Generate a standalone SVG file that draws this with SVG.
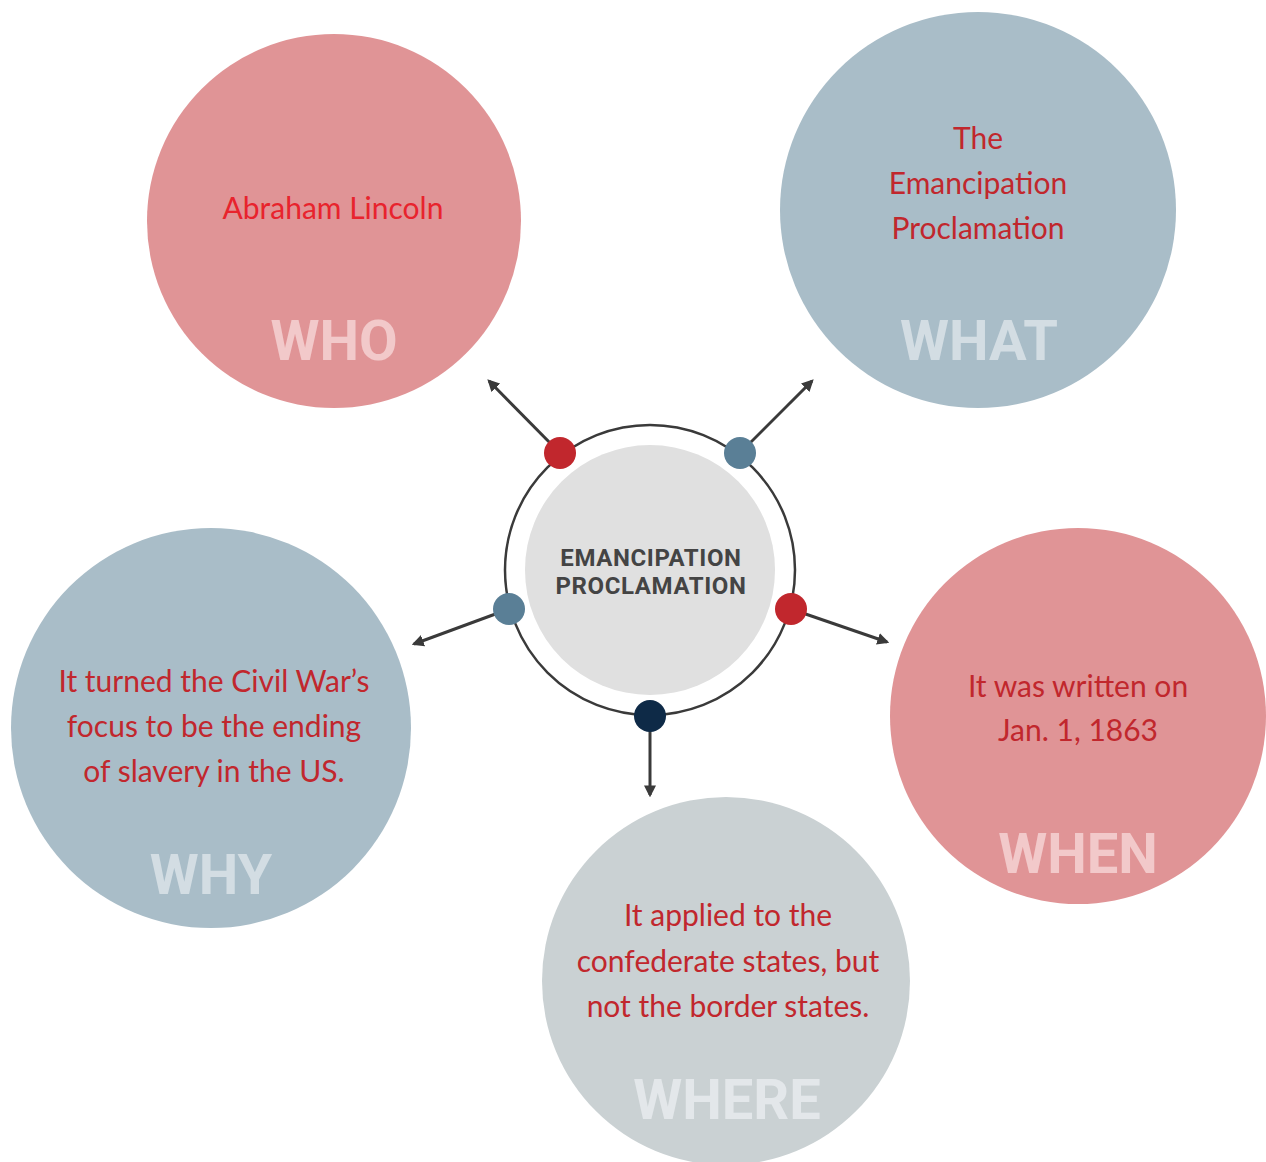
<svg xmlns="http://www.w3.org/2000/svg" width="1266" height="1162" viewBox="0 0 1266 1162">
<style>
.body{font-family:Lato,"Open Sans","Liberation Sans",sans-serif;font-size:30px;fill:#C1272D;text-anchor:middle}
.lab{font-family:Roboto,"Liberation Sans",sans-serif;font-weight:700;font-size:56px;text-anchor:middle}
.ctr{font-family:Roboto,"Liberation Sans",sans-serif;font-weight:700;font-size:24px;letter-spacing:0.6px;fill:#444;text-anchor:middle}
.conn{stroke:#3a3a3a;stroke-width:3;fill:none;marker-end:url(#ah)}
</style>
<defs>
<marker id="ah" viewBox="0 0 10 10" refX="8" refY="5" markerWidth="4" markerHeight="4" orient="auto" markerUnits="strokeWidth">
<path d="M0,0 L10,5 L0,10 Z" fill="#3a3a3a"/>
</marker>
</defs>
<rect width="1266" height="1162" fill="#fff"/>
<g id="who">
<circle cx="334" cy="221" r="187" fill="#E09496"/>
<text class="body" x="333" y="219" style="fill:#E8232D">Abraham Lincoln</text>
<text class="lab" x="334" y="360" fill="#F2C9CA">WHO</text>
</g>
<g id="what">
<circle cx="978" cy="210" r="198" fill="#A9BDC8"/>
<text class="body" x="978" y="149">The</text>
<text class="body" x="978" y="194">Emancipation</text>
<text class="body" x="978" y="239">Proclamation</text>
<text class="lab" x="979" y="360" fill="#D3DDE3">WHAT</text>
</g>
<g id="why">
<circle cx="211" cy="728" r="200" fill="#A9BDC8"/>
<text class="body" x="214" y="692">It turned the Civil War’s</text>
<text class="body" x="214" y="737">focus to be the ending</text>
<text class="body" x="214" y="782">of slavery in the US.</text>
<text class="lab" x="211" y="894" fill="#D3DDE3">WHY</text>
</g>
<g id="when">
<circle cx="1078" cy="716" r="188" fill="#E09496"/>
<text class="body" x="1078" y="697">It was written on</text>
<text class="body" x="1078" y="741">Jan. 1, 1863</text>
<text class="lab" x="1078" y="873" fill="#F2C9CA">WHEN</text>
</g>
<g id="where">
<circle cx="726" cy="981" r="184" fill="#CAD1D3"/>
<text class="body" x="728" y="926">It applied to the</text>
<text class="body" x="728" y="972">confederate states, but</text>
<text class="body" x="728" y="1017">not the border states.</text>
<text class="lab" x="727" y="1119" fill="#E3E7EA">WHERE</text>
</g>
<g id="center">
<circle cx="650" cy="570" r="145" fill="none" stroke="#3a3a3a" stroke-width="2.5"/>
<circle cx="650" cy="570" r="125" fill="#E0E0E0"/>
<text class="ctr" x="651" y="566">EMANCIPATION</text>
<text class="ctr" x="651" y="594">PROCLAMATION</text>
</g>
<g id="connectors">
<line class="conn" x1="560" y1="453" x2="489" y2="381"/>
<line class="conn" x1="740" y1="453" x2="812" y2="381"/>
<line class="conn" x1="509" y1="609" x2="414" y2="644"/>
<line class="conn" x1="791" y1="609" x2="887" y2="642"/>
<line class="conn" x1="650" y1="716" x2="650" y2="795"/>
</g>
<g id="dots">
<circle cx="560" cy="453" r="16" fill="#C1272D"/>
<circle cx="740" cy="453" r="16" fill="#5A7F96"/>
<circle cx="509" cy="609" r="16" fill="#5A7F96"/>
<circle cx="791" cy="609" r="16" fill="#C1272D"/>
<circle cx="650" cy="716" r="16" fill="#0E2A47"/>
</g>
</svg>
